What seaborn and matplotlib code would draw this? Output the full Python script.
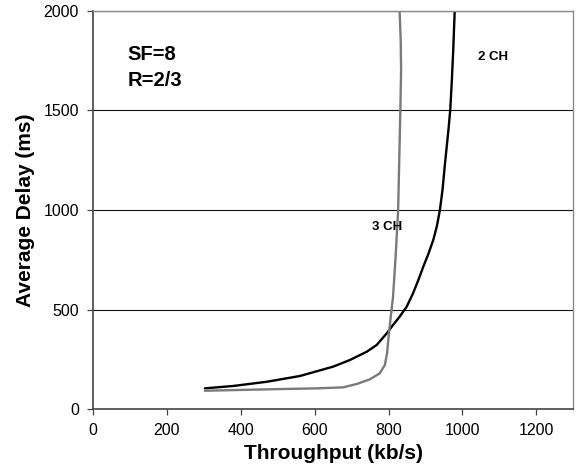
import matplotlib
matplotlib.use("Agg")
import matplotlib.pyplot as plt
import seaborn as sns
import pandas as pd

# Delay vs. throughput curves for SF=8, R=2/3
thr_2ch = [303, 380, 470, 560, 650, 695, 741, 768, 795, 812, 830, 849, 866,
           880, 894, 908, 921, 931, 939, 946, 952, 957, 962, 967, 971, 975, 979]
delay_2ch = [104, 116, 137, 166, 213, 246, 288, 322, 380, 422, 464, 514, 580,
             645, 715, 780, 849, 920, 1000, 1100, 1218, 1310, 1400, 1503, 1640,
             1800, 1997]

thr_3ch = [303, 470, 605, 677, 714, 749, 776, 790, 796, 801, 806, 812, 819,
           826, 832, 834, 833, 830]
delay_3ch = [92, 99, 104, 109, 126, 149, 179, 221, 280, 380, 464, 560, 760,
             1000, 1503, 1700, 1850, 1997]

x_ticks = [0, 200, 400, 600, 800, 1000, 1200]
y_ticks = [0, 500, 1000, 1500, 2000]

df = pd.concat([
    pd.DataFrame({"Throughput": thr_2ch, "Delay": delay_2ch, "Channels": "2 CH"}),
    pd.DataFrame({"Throughput": thr_3ch, "Delay": delay_3ch, "Channels": "3 CH"}),
], ignore_index=True)

sns.set_theme(style="white")
plt.rcParams["font.family"] = ["Liberation Sans", "DejaVu Sans"]
plt.rcParams["text.color"] = "black"
plt.rcParams["axes.labelcolor"] = "black"
plt.rcParams["xtick.color"] = "black"
plt.rcParams["ytick.color"] = "black"

fig = plt.figure(figsize=(5.77, 4.74), dpi=100)
ax = fig.add_axes([0.161, 0.137, 0.8326, 0.840])

sns.lineplot(data=df, x="Throughput", y="Delay", hue="Channels",
             palette={"2 CH": "#000000", "3 CH": "#7a7a7a"},
             sort=False, estimator=None, linewidth=1.7, legend=False, ax=ax)
for line in ax.lines:
    line.set_solid_joinstyle("round")

ax.set_xlim(0, 1300)
ax.set_ylim(0, 2000)
ax.set_xticks(x_ticks)
ax.set_yticks(y_ticks)
ax.set_xticklabels([str(t) for t in x_ticks], fontsize=11.5)
ax.set_yticklabels([str(t) for t in y_ticks], fontsize=11.5)
ax.tick_params(axis="both", which="major", direction="out", length=4, width=0.9,
               color="#444444", labelcolor="black", bottom=True, left=True, pad=6)

for y in y_ticks[1:]:
    ax.axhline(y, color="#111111", linewidth=0.8, zorder=0)

for side in ["left", "bottom"]:
    ax.spines[side].set_color("#444444")
    ax.spines[side].set_linewidth(1.2)
for side in ["top", "right"]:
    ax.spines[side].set_color("#8a8a8a")
    ax.spines[side].set_linewidth(1.0)

ax.set_xlabel("Throughput (kb/s)", fontsize=15, fontweight="bold", labelpad=4)
ax.set_ylabel("Average Delay (ms)", fontsize=15, fontweight="bold", labelpad=6)

ax.text(93, 1779, "SF=8", fontsize=14.5, fontweight="bold", va="center", ha="left")
ax.text(93, 1650, "R=2/3", fontsize=14.5, fontweight="bold", va="center", ha="left")
ax.text(1042, 1769, "2 CH", fontsize=9.5, fontweight="bold", va="center", ha="left")
ax.text(754, 916, "3 CH", fontsize=9.5, fontweight="bold", va="center", ha="left")

fig.savefig("out.png", dpi=100)
